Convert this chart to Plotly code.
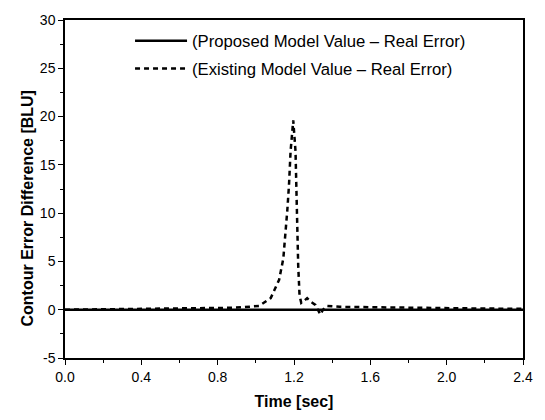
import plotly.graph_objects as go

# Time axis samples [sec] and contour error differences [BLU]
time_proposed = [0.0, 0.4, 0.8, 1.2, 1.6, 2.0, 2.4]
diff_proposed = [0.0, 0.0, 0.0, 0.0, 0.0, 0.0, 0.0]

time_existing = [0.0, 0.2, 0.4, 0.6, 0.7, 0.8, 0.88, 0.94, 1.018, 1.078,
                 1.122, 1.144, 1.156, 1.165, 1.174, 1.182, 1.196, 1.208,
                 1.212, 1.217, 1.222, 1.229, 1.238, 1.252, 1.269, 1.29,
                 1.312, 1.325, 1.338, 1.352, 1.372, 1.44, 1.6, 1.8, 2.0,
                 2.2, 2.4]
diff_existing = [0.0, 0.05, 0.05, 0.08, 0.12, 0.15, 0.2, 0.27, 0.4, 1.2,
                 3.1, 5.3, 8.0, 10.3, 13.0, 16.4, 19.6, 16.4,
                 13.0, 8.0, 4.6, 1.5, 0.7, 0.9, 1.2, 0.8,
                 0.5, 0.0, -0.5, 0.0, 0.4, 0.3, 0.25, 0.2, 0.15,
                 0.12, 0.1]

legend_names = ["(Proposed Model Value \u2013 Real Error)",
                "(Existing Model Value \u2013 Real Error)"]

x_ticks = [0.0, 0.4, 0.8, 1.2, 1.6, 2.0, 2.4]
x_tick_text = ["0.0", "0.4", "0.8", "1.2", "1.6", "2.0", "2.4"]
y_ticks = [-5, 0, 5, 10, 15, 20, 25, 30]
y_tick_text = ["-5", "0", "5", "10", "15", "20", "25", "30"]

FONT = "Liberation Sans, Arial"

fig = go.Figure()
fig.add_trace(go.Scatter(x=time_proposed, y=diff_proposed, mode="lines",
                         name=legend_names[0], legendgroup="a",
                         line=dict(color="black", width=2.5)))
fig.add_trace(go.Scatter(x=time_existing, y=diff_existing, mode="lines",
                         name=legend_names[1], legendgroup="b",
                         line=dict(color="black", width=2.5, dash="5px,4px")))

axis_common = dict(
    showline=True, linecolor="black", linewidth=1.5, mirror=True,
    ticks="outside", ticklen=5, tickwidth=1.2, tickcolor="black",
    showgrid=False, zeroline=False,
    tickfont=dict(family=FONT, size=14, color="black"),
)

fig.update_xaxes(
    range=[0, 2.4], tickvals=x_ticks, ticktext=x_tick_text,
    minor=dict(dtick=0.2, ticks="outside", ticklen=3, tickcolor="black"),
    title=dict(text="<b>Time [sec]</b>", standoff=12,
               font=dict(family=FONT, size=16, color="black")),
    **axis_common,
)
fig.update_yaxes(
    range=[-5, 30], tickvals=y_ticks, ticktext=y_tick_text,
    minor=dict(dtick=2.5, ticks="outside", ticklen=3, tickcolor="black"),
    **axis_common,
)

# y-axis title placed as a rotated annotation, sitting a little below centre
fig.add_annotation(
    text="<b>Contour Error Difference [BLU]</b>",
    xref="paper", yref="paper", x=-0.081, y=0.442,
    xanchor="center", yanchor="middle", textangle=-90, showarrow=False,
    font=dict(family=FONT, size=16, color="black"),
)

fig.update_layout(
    width=545, height=420,
    margin=dict(l=65, r=17, t=16, b=58),
    plot_bgcolor="white", paper_bgcolor="white",
    showlegend=True,
    legend=dict(x=0.142, y=0.99, xanchor="left", yanchor="top",
                bgcolor="rgba(0,0,0,0)", itemwidth=52,
                traceorder="grouped", tracegroupgap=3,
                font=dict(family=FONT, size=16.7, color="black")),
)

fig.write_html("out.html")
